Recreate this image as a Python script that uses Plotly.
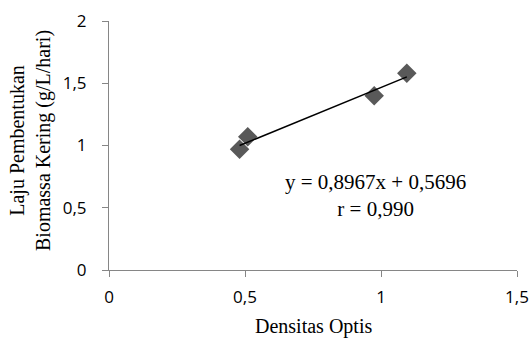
import plotly.graph_objects as go

x_vals = [0.48, 0.51, 0.975, 1.095]
y_vals = [0.97, 1.07, 1.40, 1.58]
slope = 0.8967
intercept = 0.5696
r_val = "0,990"

x_title = "Densitas Optis"
y_title = "Laju Pembentukan<br>Biomassa Kering (g/L/hari)"

x_line = [min(x_vals), max(x_vals)]
y_line = [slope * v + intercept for v in x_line]

fig = go.Figure()
fig.add_trace(go.Scatter(x=x_vals, y=y_vals, mode="markers",
                         marker=dict(symbol="diamond", size=15, color="#595959"),
                         showlegend=False))
fig.add_trace(go.Scatter(x=x_line, y=y_line, mode="lines",
                         line=dict(color="black", width=1.5), showlegend=False))

fig.add_annotation(x=0.978, y=0.60, xref="x", yref="y",
                   text="y = 0,8967x + 0,5696<br>r = " + r_val,
                   showarrow=False, align="center", yanchor="middle",
                   font=dict(family="Liberation Serif", size=21, color="black"))

# axis titles as annotations for precise placement
fig.add_annotation(x=(313 - 109) / 408, y=(270 - 326) / 249, xref="paper", yref="paper",
                   text=x_title, showarrow=False, xanchor="center", yanchor="middle",
                   font=dict(family="Liberation Serif", size=20, color="black"))
fig.add_annotation(x=(30 - 109) / 408, y=(270 - 141) / 249, xref="paper", yref="paper",
                   text=y_title, showarrow=False, textangle=-90, align="center",
                   xanchor="center", yanchor="middle",
                   font=dict(family="Liberation Serif", size=20, color="black"))

fig.update_layout(
    width=532, height=338,
    margin=dict(l=109, r=15, t=21, b=68),
    paper_bgcolor="white", plot_bgcolor="white",
    separators=",.",
    xaxis=dict(range=[0, 1.5], dtick=0.5, showgrid=False, zeroline=False,
               showline=True, linecolor="#868686", linewidth=1,
               ticks="outside", ticklen=6, tickcolor="#868686",
               ticklabelstandoff=6, automargin=False,
               tickfont=dict(family="Open Sans", size=17, color="black")),
    yaxis=dict(range=[0, 2], dtick=0.5, showgrid=False, zeroline=False,
               showline=True, linecolor="#868686", linewidth=1,
               ticks="outside", ticklen=6, tickcolor="#868686",
               ticklabelstandoff=12, automargin=False,
               tickfont=dict(family="Open Sans", size=17, color="black")),
)

fig.write_html("out.html", config={"displayModeBar": False},
               post_script="document.body.style.margin='0px';")
